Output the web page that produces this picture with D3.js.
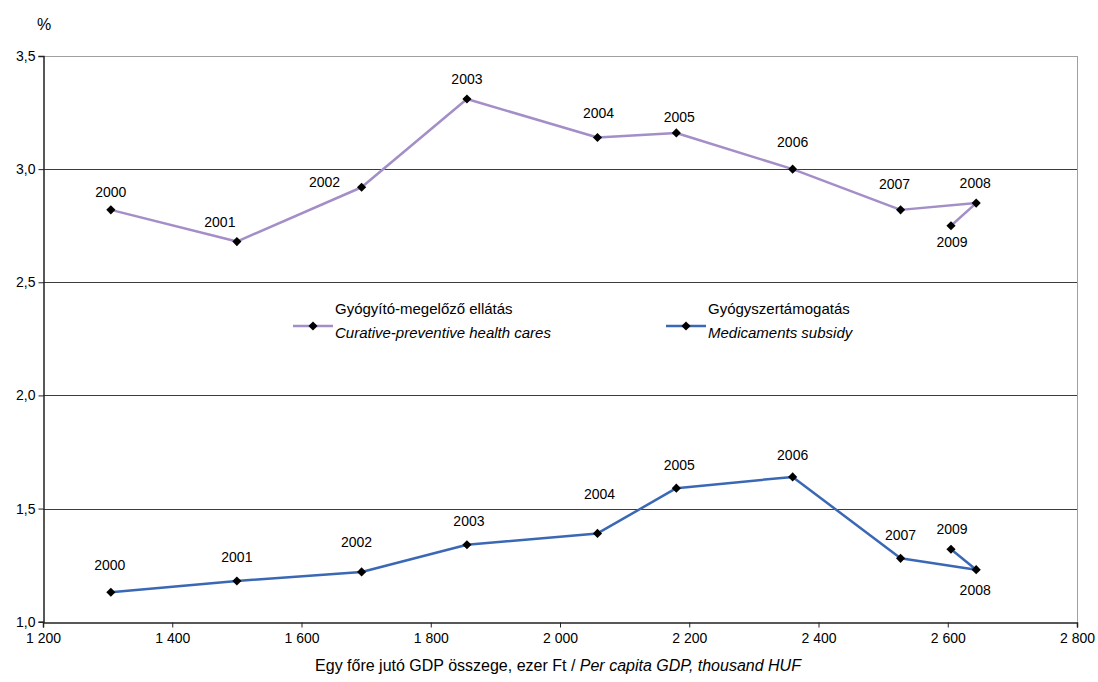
<!DOCTYPE html>
<html>
<head>
<meta charset="utf-8">
<script src="https://cdn.jsdelivr.net/npm/d3@7"></script>
<style>
  body { margin: 0; background: #fff; }
  svg { display: block; font-family: "Liberation Sans", Arial, sans-serif; }
</style>
</head>
<body>
<div id="chart"></div>
<script>
// data
const years = [2000, 2001, 2002, 2003, 2004, 2005, 2006, 2007, 2008, 2009];
const gdp = [1305, 1500, 1693, 1856, 2058, 2180, 2360, 2527, 2644, 2605];
const curative = [2.82, 2.68, 2.92, 3.31, 3.14, 3.16, 3.00, 2.82, 2.85, 2.75];
const medicaments = [1.13, 1.18, 1.22, 1.34, 1.39, 1.59, 1.64, 1.28, 1.23, 1.32];
const yTicks = [1.0, 1.5, 2.0, 2.5, 3.0, 3.5];
const xTicks = [1200, 1400, 1600, 1800, 2000, 2200, 2400, 2600, 2800];

// label placement (dx, dy from the point), one per year
const curativeLabelPos = [[0, -18], [-17, -20], [-37, -5], [0, -20], [1, -24], [3, -16], [0, -27], [-6, -26], [-1, -20], [1, 16]];
const medicamentsLabelPos = [[-1, -27], [0, -24], [-5, -30], [2, -24], [2, -39], [3, -23], [0, -22], [0, -23], [-1, 20], [1, -20]];

const series = [
  { name: "Gyógyító-megelőző ellátás", en: "Curative-preventive health cares", values: curative, color: "#a48ec8", labels: curativeLabelPos, lx: 293 },
  { name: "Gyógyszertámogatás", en: "Medicaments subsidy", values: medicaments, color: "#3a68b4", labels: medicamentsLabelPos, lx: 666 }
];

const width = 1098, height = 682;
const margin = { left: 43, right: 21, top: 56, bottom: 60 };

const svg = d3.select("#chart").append("svg")
  .attr("width", width)
  .attr("height", height);

const x = d3.scaleLinear().domain([1200, 2800]).range([margin.left, width - margin.right]);
const y = d3.scaleLinear().domain([1.0, 3.5]).range([height - margin.bottom - 0.3, margin.top]);

// gridlines
svg.append("g")
  .selectAll("line")
  .data(yTicks.slice(1))
  .join("line")
  .attr("x1", x(1200)).attr("x2", x(2800))
  .attr("y1", (d) => Math.round(y(d)) + 0.5)
  .attr("y2", (d) => Math.round(y(d)) + 0.5)
  .attr("stroke", (d) => (d === 3.5 ? "#a0a0a0" : "#3c3c3c"))
  .attr("stroke-width", 1);

// right border
svg.append("line")
  .attr("x1", Math.round(x(2800)) + 0.5).attr("x2", Math.round(x(2800)) + 0.5)
  .attr("y1", y(3.5)).attr("y2", y(1.0))
  .attr("stroke", "#a0a0a0");

// axes
const fmt = (d) => d3.format(",")(d).replace(",", " ");
const xAxis = svg.append("g")
  .attr("transform", `translate(0,${Math.round(y(1.0)) + 0.5})`)
  .call(d3.axisBottom(x).tickValues(xTicks).tickSize(5).tickPadding(6).tickFormat(fmt));
const yAxis = svg.append("g")
  .attr("transform", `translate(${Math.round(x(1200)) + 0.5},0)`)
  .call(d3.axisLeft(y).tickValues(yTicks).tickSize(5).tickPadding(3).tickFormat((d) => d3.format(".1f")(d).replace(".", ",")));

[xAxis, yAxis].forEach((g) => {
  g.select(".domain").attr("stroke", "#222").attr("stroke-width", 1.5);
  g.selectAll(".tick line").attr("stroke", "#222");
  g.selectAll(".tick text").attr("fill", "#000").style("font-size", "14px").style("font-family", "'Liberation Sans', Arial, sans-serif");
});

// unit label
svg.append("text")
  .attr("x", 37).attr("y", 30)
  .style("font-size", "16px")
  .attr("fill", "#000")
  .text("%");

// x axis title
const xt = svg.append("text")
  .attr("x", 558).attr("y", 671)
  .attr("text-anchor", "middle")
  .style("font-size", "16px")
  .attr("fill", "#000");
xt.append("tspan").text("Egy főre jutó GDP összege, ezer Ft / ");
xt.append("tspan").style("font-style", "italic").text("Per capita GDP, thousand HUF");

const line = d3.line()
  .x((d) => x(d.gdp))
  .y((d) => y(d.value));

const diamond = d3.symbol().type(d3.symbolSquare).size(42);

series.forEach((s) => {
  const pts = years.map((yr, i) => ({ year: yr, gdp: gdp[i], value: s.values[i], pos: s.labels[i] }));

  svg.append("path")
    .datum(pts)
    .attr("fill", "none")
    .attr("stroke", s.color)
    .attr("stroke-width", 2.5)
    .attr("stroke-linejoin", "round")
    .attr("d", line);

  svg.append("g")
    .selectAll("path")
    .data(pts)
    .join("path")
    .attr("d", diamond)
    .attr("transform", (d) => `translate(${x(d.gdp)},${y(d.value)}) rotate(45)`)
    .attr("fill", "#000");

  svg.append("g")
    .selectAll("text")
    .data(pts)
    .join("text")
    .attr("x", (d) => x(d.gdp) + d.pos[0])
    .attr("y", (d) => y(d.value) + d.pos[1] + 5)
    .attr("text-anchor", "middle")
    .style("font-size", "14px")
    .attr("fill", "#000")
    .text((d) => d.year);

  // legend entry
  const lg = svg.append("g").attr("transform", `translate(${s.lx},326)`);
  lg.append("line")
    .attr("x1", 0).attr("x2", 40)
    .attr("stroke", s.color).attr("stroke-width", 2.5);
  lg.append("path")
    .attr("d", diamond)
    .attr("transform", "translate(20,0) rotate(45)")
    .attr("fill", "#000");
  lg.append("text")
    .attr("x", 42).attr("y", -12)
    .style("font-size", "15px")
    .attr("fill", "#000")
    .text(s.name);
  lg.append("text")
    .attr("x", 42).attr("y", 12)
    .style("font-size", "15px")
    .style("font-style", "italic")
    .attr("fill", "#000")
    .text(s.en);
});
</script>
</body>
</html>
